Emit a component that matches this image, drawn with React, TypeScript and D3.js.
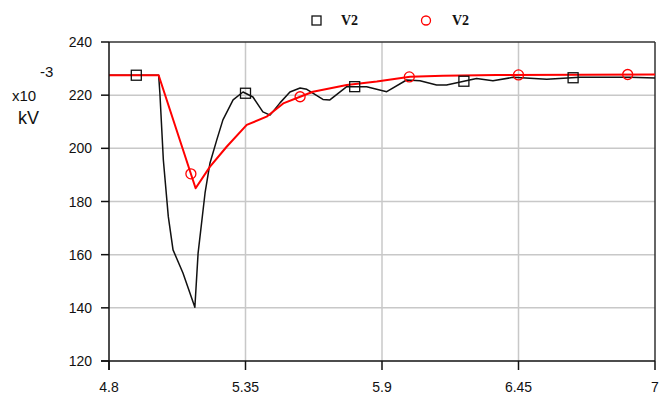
import React from 'react';
import * as d3 from 'd3';

// black trace (V2, squares)
const blackT = [4.8, 5.0, 5.005, 5.019, 5.039, 5.058, 5.098, 5.146, 5.159, 5.187, 5.207, 5.234, 5.259, 5.3, 5.34, 5.38, 5.42, 5.449, 5.489, 5.529, 5.57, 5.597, 5.662, 5.69, 5.758, 5.838, 5.919, 5.999, 6.053, 6.12, 6.16, 6.281, 6.347, 6.428, 6.564, 6.698, 6.899, 7.0];
const blackV = [227.5, 227.5, 220.8, 195.6, 174.3, 161.8, 153.1, 140.2, 160.6, 183.2, 194.5, 203.1, 210.7, 218.2, 221.2, 219.3, 213.7, 212.5, 217.1, 221.2, 222.7, 222.2, 218.4, 218.2, 223.2, 223.2, 221.3, 225.7, 225.4, 223.8, 223.8, 226.3, 225.4, 226.7, 226.0, 226.7, 226.7, 226.5];

// red trace (V2, circles)
const redT = [4.8, 5.0, 5.149, 5.207, 5.274, 5.355, 5.435, 5.502, 5.57, 5.622, 5.758, 5.879, 6.013, 6.146, 6.362, 7.0];
const redV = [227.5, 227.5, 185.0, 193.1, 200.6, 208.8, 211.9, 216.9, 219.4, 221.3, 223.8, 225.1, 226.9, 227.3, 227.6, 227.8];

const squareT = [4.91, 5.35, 5.79, 6.23, 6.67];
const circleT = [5.13, 5.57, 6.01, 6.45, 6.89];

const xTicks = [4.8, 5.35, 5.9, 6.45, 7];
const yTicks = [120, 140, 160, 180, 200, 220, 240];

const W = 663;
const H = 396;
const left = 109, right = 655, top = 42, bottom = 361;

const x = d3.scaleLinear().domain([4.8, 7]).range([left, right]);
const y = d3.scaleLinear().domain([120, 240]).range([bottom, top]);

const interp = (ts: number[], vs: number[], t: number) => {
  const i = Math.max(1, d3.bisectLeft(ts, t));
  const t0 = ts[i - 1], t1 = ts[i];
  return vs[i - 1] + (vs[i] - vs[i - 1]) * (t - t0) / (t1 - t0);
};

const line = d3.line<[number, number]>().x(d => x(d[0])).y(d => y(d[1]));

export default function App() {
  const blackPts = blackT.map((t, i) => [t, blackV[i]] as [number, number]);
  const redPts = redT.map((t, i) => [t, redV[i]] as [number, number]);
  const tickFont = "'Liberation Sans', Arial, sans-serif";

  return (
    <svg width={W} height={H} style={{ position: 'absolute', left: 0, top: 0, background: '#fff' }}>
      {/* grid */}
      {yTicks.slice(1, -1).map(v => (
        <line key={'gy' + v} x1={left} x2={right} y1={y(v)} y2={y(v)} stroke="#c8c8c8" strokeWidth={1.5} />
      ))}
      {xTicks.slice(1, -1).map(v => (
        <line key={'gx' + v} x1={x(v)} x2={x(v)} y1={top} y2={bottom} stroke="#c8c8c8" strokeWidth={1.5} />
      ))}

      {/* frame */}
      <line x1={left} x2={right} y1={top} y2={top} stroke="#333" strokeWidth={1.5} />
      <line x1={right} x2={right} y1={top} y2={bottom} stroke="#333" strokeWidth={1.5} />

      {/* traces */}
      <path d={line(blackPts) || ''} fill="none" stroke="#111" strokeWidth={1.5} strokeLinejoin="round" />
      <path d={line(redPts) || ''} fill="none" stroke="#ff0000" strokeWidth={2} strokeLinejoin="round" />

      {squareT.map(t => (
        <rect key={'s' + t} x={x(t) - 5} y={y(interp(blackT, blackV, t)) - 5} width={10} height={10}
          fill="none" stroke="#111" strokeWidth={1.3} />
      ))}
      {circleT.map(t => (
        <circle key={'c' + t} cx={x(t)} cy={y(interp(redT, redV, t))} r={5}
          fill="none" stroke="#ff0000" strokeWidth={1.3} />
      ))}

      {/* axes */}
      <line x1={left} x2={left} y1={top} y2={bottom + 9} stroke="#111" strokeWidth={1.5} />
      <line x1={left - 8} x2={right} y1={bottom} y2={bottom} stroke="#111" strokeWidth={1.5} />
      {yTicks.map(v => (
        <g key={'ty' + v}>
          <line x1={left - 8} x2={left} y1={y(v)} y2={y(v)} stroke="#111" strokeWidth={1.5} />
          <text x={92} y={y(v) + 5} textAnchor="end" fontFamily={tickFont} fontSize={14} fill="#111">{v}</text>
        </g>
      ))}
      {xTicks.map(v => (
        <g key={'tx' + v}>
          <line x1={x(v)} x2={x(v)} y1={bottom} y2={bottom + 9} stroke="#111" strokeWidth={1.5} />
          <text x={x(v)} y={392} textAnchor="middle" fontFamily={tickFont} fontSize={14} fill="#111">{String(v)}</text>
        </g>
      ))}

      {/* unit label */}
      <text x={12} y={101} fontFamily={tickFont} fontSize={15} fill="#111">x10</text>
      <text x={40} y={77} fontFamily={tickFont} fontSize={15} fill="#111">-3</text>
      <text x={18} y={124} fontFamily={tickFont} fontSize={18} fill="#111">kV</text>

      {/* legend */}
      <rect x={312} y={16} width={9} height={9} fill="none" stroke="#111" strokeWidth={1.3} />
      <text x={341} y={25} fontFamily="'Liberation Serif', serif" fontWeight="bold" fontSize={14} fill="#111">V2</text>
      <circle cx={426} cy={20.5} r={4.5} fill="none" stroke="#ff0000" strokeWidth={1.3} />
      <text x={452} y={25} fontFamily="'Liberation Serif', serif" fontWeight="bold" fontSize={14} fill="#111">V2</text>
    </svg>
  );
}
